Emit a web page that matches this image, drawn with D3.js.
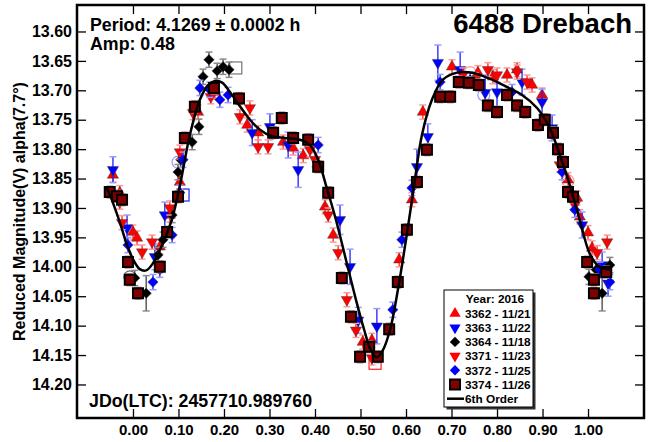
<!DOCTYPE html>
<html>
<head>
<meta charset="utf-8">
<script src="https://cdn.jsdelivr.net/npm/d3@7"></script>
<style>
  body { margin: 0; background: #fff; }
  text { font-family: "Liberation Sans", Arial, sans-serif; font-weight: bold; fill: #000; }
</style>
</head>
<body>
<script>
// tick values
var xTicks = [0, 0.1, 0.2, 0.3, 0.4, 0.5, 0.6, 0.7, 0.8, 0.9, 1.0];
var yTicks = [13.60, 13.65, 13.70, 13.75, 13.80, 13.85, 13.90, 13.95, 14.00, 14.05, 14.10, 14.15, 14.20];

// session names for legend
var sessionNames = ["3362 - 11/21", "3363 - 11/22", "3364 - 11/18", "3371 - 11/23", "3372 - 11/25", "3374 - 11/26"];
// typical error per session (mag)
var sessionErr = [0.012, 0.022, 0.013, 0.012, 0.013, 0.010];

// [phase, reduced mag, (optional) error]
var s3362 = [[-0.044,13.844],[-0.029,13.874],[0.000,13.941],[0.009,13.951],[0.059,13.966],[0.081,13.912],
  [0.103,13.856],[0.143,13.737],[0.180,13.703],[0.251,13.759],[0.275,13.772],[0.330,13.788],[0.352,13.798],
  [0.374,13.811],[0.422,13.898],[0.440,13.946],[0.505,14.128],[0.525,14.125],[0.585,13.988],[0.613,13.886],
  [0.637,13.737],[0.701,13.660],[0.758,13.670],[0.791,13.677],[0.822,13.674],[0.844,13.665],[0.877,13.691],
  [0.899,13.708],[0.956,13.852],[0.976,13.883],[0.982,13.915],[1.000,13.942],[1.009,13.968]];
var s3363 = [[-0.044,13.835],[-0.013,13.934],[0.048,13.983],[0.070,13.912],[0.262,13.772],[0.301,13.762],
  [0.341,13.793],[0.363,13.835,0.03],[0.455,13.920,0.025],[0.477,14.000,0.03],[0.495,14.091],[0.536,14.101,0.03],
  [0.624,13.830,0.03],[0.648,13.779],[0.670,13.653,0.03],[0.719,13.665,0.03],[0.774,13.704,0.03],[0.800,13.703,0.03],
  [0.855,13.686],[0.899,13.720],[0.921,13.764],[0.987,13.929],[1.031,13.997],[1.044,14.028]];
var s3364 = [[0.004,14.019],[0.029,14.045,0.03],[0.055,13.980],[0.066,13.954],[0.086,13.912],[0.099,13.839],
  [0.105,13.818],[0.130,13.788],[0.145,13.762],[0.154,13.677],[0.167,13.648],[0.185,13.667],[0.198,13.660],
  [0.211,13.665],[1.002,14.017],[1.018,14.005],[1.031,14.045,0.03],[1.048,13.997]];
var s3371 = [[-0.029,13.890],[-0.024,13.925],[0.020,13.975],[0.042,13.958],[0.081,13.900],[0.103,13.805],
  [0.132,13.738],[0.171,13.711],[0.235,13.745],[0.257,13.730],[0.275,13.796],[0.297,13.796],[0.389,13.801],
  [0.400,13.818],[0.429,13.912],[0.451,13.976],[0.470,14.056],[0.490,14.108],[0.525,14.155],[0.725,13.674],
  [0.752,13.682],[0.780,13.665],[0.800,13.674],[0.844,13.669],[0.866,13.686],[0.938,13.827],[0.971,13.895],
  [1.020,13.976],[1.042,13.958]];
var s3372 = [[-0.011,13.963],[0.044,14.026],[0.059,14.005],[0.086,13.946],[0.103,13.874],[0.110,13.818],
  [0.147,13.696],[0.169,13.699],[0.191,13.716],[0.209,13.708],[0.407,13.793],[0.571,14.073],[0.591,13.954],
  [0.613,13.866],[0.675,13.686],[0.741,13.682],[0.833,13.703],[0.943,13.839],[0.971,13.903],[1.026,14.005],
  [1.048,14.026]];
var s3374 = [[-0.051,13.873],[-0.035,13.880],[-0.024,13.886],[-0.011,13.992],[-0.007,14.022],[0.011,14.045],
  [0.059,14.000],[0.075,13.941],[0.099,13.881],[0.114,13.781],[0.136,13.728],[0.178,13.696],[0.233,13.714],
  [0.308,13.772],[0.327,13.747],[0.352,13.781],[0.385,13.784],[0.407,13.830],[0.429,13.874],[0.459,14.019],
  [0.479,14.085],[0.499,14.153],[0.519,14.136],[0.538,14.153],[0.563,14.106],[0.582,14.026],[0.602,13.937],
  [0.624,13.856],[0.646,13.801],[0.675,13.711],[0.697,13.711],[0.716,13.686],[0.738,13.687],[0.760,13.691],
  [0.780,13.726],[0.800,13.737],[0.822,13.708],[0.844,13.726],[0.862,13.737],[0.890,13.759],[0.905,13.750],
  [0.923,13.772],[0.934,13.800],[0.945,13.822],[0.956,13.873],[0.967,13.881],[0.998,13.992],[1.013,14.022],
  [1.013,14.045],[1.040,14.009]];

// excluded points (hollow): [phase, mag, session index]
var excludedCircles = [[0.099,13.822,4],[-0.007,14.017,2],[0.956,13.854,0],[0.741,13.670,3],[0.771,13.708,1]];
var excludedSquares = [[0.226,13.662,2],[0.110,13.878,4],[0.532,14.164,0]];

// 6th order fit
var fitPhase = [-0.057,-0.046,-0.029,-0.013,0.002,0.015,0.029,0.044,0.064,0.086,0.103,0.125,0.147,0.165,0.180,
  0.196,0.213,0.235,0.257,0.279,0.305,0.334,0.367,0.389,0.407,0.424,0.446,0.468,0.490,0.508,0.523,0.536,0.549,
  0.565,0.582,0.600,0.618,0.635,0.657,0.681,0.712,0.745,0.780,0.818,0.855,0.888,0.916,0.938,0.960,0.982,1.004,
  1.026,1.048];
var fitMag = [13.866,13.887,13.924,13.963,13.990,14.004,14.006,13.994,13.963,13.918,13.862,13.776,13.716,13.691,
  13.684,13.687,13.703,13.727,13.750,13.767,13.778,13.781,13.784,13.793,13.818,13.861,13.920,13.988,14.056,
  14.107,14.142,14.154,14.142,14.107,14.040,13.954,13.861,13.776,13.716,13.682,13.670,13.670,13.679,13.693,
  13.708,13.730,13.764,13.810,13.861,13.921,13.978,14.001,14.004];

var sessionData = [s3362, s3363, s3364, s3371, s3372, s3374];

// marker styles per session
var styles = [
  {shape: "up",      fill: "#ff0000", bar: "#ff2020", cap: "#ff9a9a"},
  {shape: "down",    fill: "#0000ff", bar: "#2020ff", cap: "#9a9aff"},
  {shape: "diamond", fill: "#000000", bar: "#404040", cap: "#8a8a8a"},
  {shape: "down",    fill: "#ff0000", bar: "#ff2020", cap: "#ff9a9a"},
  {shape: "diamond", fill: "#0000ff", bar: "#2020ff", cap: "#9a9aff"},
  {shape: "square",  fill: "#800000", bar: "#903030", cap: "#c08a8a"}
];

var W = 649, H = 442;
var frame = {left: 77, right: 644, top: 5, bottom: 418};

var x = d3.scaleLinear().domain([-0.123, 1.123]).range([frame.left, frame.right]);
var y = d3.scaleLinear().domain([13.555, 14.257]).range([frame.top, frame.bottom]);

var svg = d3.select("body").append("svg")
    .attr("width", W)
    .attr("height", H);

// clip to plot area
svg.append("clipPath").attr("id", "plotclip")
  .append("rect")
    .attr("x", frame.left).attr("y", frame.top)
    .attr("width", frame.right - frame.left).attr("height", frame.bottom - frame.top);

// axes: ticks point inward on all four sides
var tickLen = 9;
svg.append("g")
    .attr("transform", "translate(0," + frame.bottom + ")")
    .call(d3.axisBottom(x).tickValues(xTicks).tickSize(-tickLen).tickPadding(6)
      .tickFormat(d3.format(".2f")))
    .call(function(g) {
      g.select(".domain").remove();
      g.selectAll("line").attr("stroke", "#000").attr("stroke-width", 1.3);
      g.selectAll("text").style("font-size", "15px").attr("font-family", null).attr("font-size", null);
    });
svg.append("g")
    .attr("transform", "translate(0," + frame.top + ")")
    .call(d3.axisTop(x).tickValues(xTicks).tickSize(-tickLen).tickFormat(""))
    .call(function(g) {
      g.select(".domain").remove();
      g.selectAll("line").attr("stroke", "#000").attr("stroke-width", 1.3);
    });
svg.append("g")
    .attr("transform", "translate(" + frame.left + ",0)")
    .call(d3.axisLeft(y).tickValues(yTicks).tickSize(-tickLen).tickPadding(5)
      .tickFormat(d3.format(".2f")))
    .call(function(g) {
      g.select(".domain").remove();
      g.selectAll("line").attr("stroke", "#000").attr("stroke-width", 1.3);
      g.selectAll("text").style("font-size", "16px").attr("font-family", null).attr("font-size", null);
    });
svg.append("g")
    .attr("transform", "translate(" + frame.right + ",0)")
    .call(d3.axisRight(y).tickValues(yTicks).tickSize(-tickLen).tickFormat(""))
    .call(function(g) {
      g.select(".domain").remove();
      g.selectAll("line").attr("stroke", "#000").attr("stroke-width", 1.3);
    });

// y axis title
svg.append("text")
    .attr("transform", "translate(25," + ((frame.top + frame.bottom) / 2) + ") rotate(-90)")
    .style("text-anchor", "middle")
    .style("font-size", "16px")
    .text("Reduced Magnitude(V) alpha(7.7°)");

var plot = svg.append("g").attr("clip-path", "url(#plotclip)");

// marker path for a shape
function markerPath(shape) {
  if (shape === "up") return d3.symbol().type(d3.symbolTriangle).size(55)();
  if (shape === "down") return d3.symbol().type(d3.symbolTriangle).size(55)();
  if (shape === "diamond") return "M0,-5.2L5.2,0L0,5.2L-5.2,0Z";
  return "M-5,-5H5V5H-5Z";
}
function markerTransform(shape) {
  return shape === "down" ? " rotate(180)" : "";
}

// hollow excluded markers
plot.selectAll(".exc-c").data(excludedCircles).enter().append("circle")
    .attr("cx", function(d) { return x(d[0]); })
    .attr("cy", function(d) { return y(d[1]); })
    .attr("r", 6)
    .attr("fill", "none")
    .attr("stroke", function(d) { return d[2] === 2 ? "#666" : styles[d[2]].cap; })
    .attr("stroke-width", 1.2);
plot.selectAll(".exc-s").data(excludedSquares).enter().append("rect")
    .attr("x", function(d) { return x(d[0]) - 6; })
    .attr("y", function(d) { return y(d[1]) - 6; })
    .attr("width", 12).attr("height", 12)
    .attr("fill", "none")
    .attr("stroke", function(d) { return d[2] === 2 ? "#777" : styles[d[2]].bar; })
    .attr("stroke-width", 1.2);

// sessions: error bars then markers
sessionData.forEach(function(pts, i) {
  var st = styles[i];
  var g = plot.append("g").attr("class", "session");
  var eb = g.selectAll(".eb").data(pts).enter().append("g");
  eb.append("line")
      .attr("x1", function(d) { return x(d[0]); })
      .attr("x2", function(d) { return x(d[0]); })
      .attr("y1", function(d) { return y(d[1] - (d[2] || sessionErr[i])); })
      .attr("y2", function(d) { return y(d[1] + (d[2] || sessionErr[i])); })
      .attr("stroke", st.bar).attr("stroke-width", 1.3);
  [-1, 1].forEach(function(sgn) {
    eb.append("line")
        .attr("x1", function(d) { return x(d[0]) - 3.5; })
        .attr("x2", function(d) { return x(d[0]) + 3.5; })
        .attr("y1", function(d) { return y(d[1] + sgn * (d[2] || sessionErr[i])); })
        .attr("y2", function(d) { return y(d[1] + sgn * (d[2] || sessionErr[i])); })
        .attr("stroke", st.cap).attr("stroke-width", 1.5);
  });
  g.selectAll(".mk").data(pts).enter().append("path")
      .attr("d", markerPath(st.shape))
      .attr("transform", function(d) {
        return "translate(" + x(d[0]) + "," + y(d[1]) + ")" + markerTransform(st.shape);
      })
      .attr("fill", st.fill)
      .attr("stroke", st.shape === "square" ? "#000" : "rgba(60,60,60,0.45)")
      .attr("stroke-width", st.shape === "square" ? 2 : 1);
});

// fitted curve
var fit = fitPhase.map(function(p, k) { return [p, fitMag[k]]; });
plot.append("path")
    .datum(fit)
    .attr("fill", "none")
    .attr("stroke", "#000")
    .attr("stroke-width", 2.5)
    .attr("d", d3.line()
      .x(function(d) { return x(d[0]); })
      .y(function(d) { return y(d[1]); })
      .curve(d3.curveCatmullRom));

// frame
svg.append("rect")
    .attr("x", frame.left).attr("y", frame.top)
    .attr("width", frame.right - frame.left).attr("height", frame.bottom - frame.top)
    .attr("fill", "none").attr("stroke", "#000").attr("stroke-width", 2.5);

// annotations
svg.append("text").attr("x", 90).attr("y", 31).style("font-size", "17.8px")
    .text("Period: 4.1269 ± 0.0002 h");
svg.append("text").attr("x", 90).attr("y", 50).style("font-size", "17.8px")
    .text("Amp: 0.48");
svg.append("text").attr("x", 632).attr("y", 33).style("font-size", "27.5px")
    .style("text-anchor", "end")
    .text("6488 Drebach");
svg.append("text").attr("x", 89).attr("y", 407).style("font-size", "17.8px")
    .text("JDo(LTC): 2457710.989760");

// legend
var lg = {x: 444, y: 290, w: 89, h: 117};
var legend = svg.append("g");
legend.append("rect")
    .attr("x", lg.x + 2.5).attr("y", lg.y + 2.5).attr("width", lg.w).attr("height", lg.h)
    .attr("fill", "#333");
legend.append("rect")
    .attr("x", lg.x).attr("y", lg.y).attr("width", lg.w).attr("height", lg.h)
    .attr("fill", "#fff").attr("stroke", "#000").attr("stroke-width", 1);
legend.append("text")
    .attr("x", lg.x + 51).attr("y", lg.y + 13)
    .style("text-anchor", "middle").style("font-size", "11.8px")
    .text("Year: 2016");
var rows = legend.selectAll(".row").data(sessionNames).enter().append("g")
    .attr("transform", function(d, k) { return "translate(" + lg.x + "," + (lg.y + 23.5 + k * 14.2) + ")"; });
rows.append("path")
    .attr("d", function(d, k) { return markerPath(styles[k].shape); })
    .attr("transform", function(d, k) { return "translate(11,0)" + markerTransform(styles[k].shape); })
    .attr("fill", function(d, k) { return styles[k].fill; })
    .attr("stroke", function(d, k) { return styles[k].shape === "square" ? "#000" : "none"; })
    .attr("stroke-width", 2);
rows.append("text")
    .attr("x", 21).attr("y", 4.3)
    .style("font-size", "11.8px")
    .text(function(d) { return d; });
var fitRow = legend.append("g")
    .attr("transform", "translate(" + lg.x + "," + (lg.y + 23.5 + 6 * 14.2) + ")");
fitRow.append("line").attr("x1", 3).attr("x2", 20).attr("y1", 0).attr("y2", 0)
    .attr("stroke", "#000").attr("stroke-width", 2.5);
fitRow.append("text").attr("x", 21).attr("y", 4.3).style("font-size", "11.8px").text("6th Order");
</script>
</body>
</html>
